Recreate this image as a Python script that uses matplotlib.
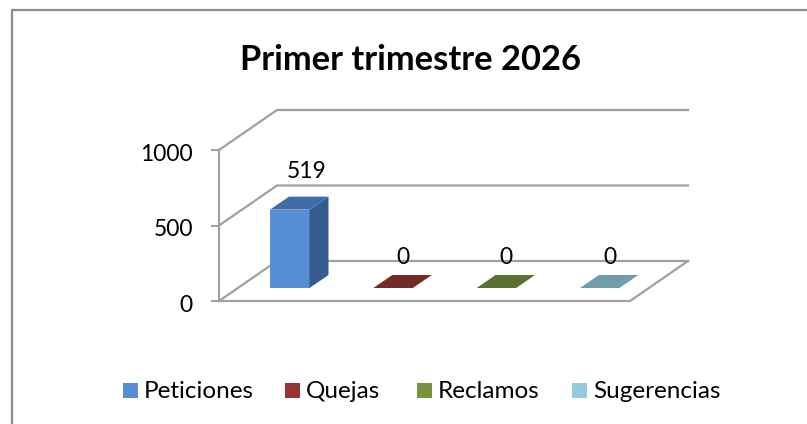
import matplotlib
matplotlib.use('Agg')
import matplotlib.pyplot as plt
from matplotlib.patches import Polygon, Rectangle

categories = ['Peticiones', 'Quejas', 'Reclamos', 'Sugerencias']
values = [519, 0, 0, 0]
y_ticks = [0, 500, 1000]

front = ['#558ED5', '#943634', '#77933C', '#93CDDD']
top = ['#3F6CA5', '#722B29', '#5B7030', '#719CA9']
side = '#345C8E'

plt.rcParams['font.family'] = ['Lato', 'DejaVu Sans']

fig = plt.figure(figsize=(8.07, 4.24), dpi=100)
ax = fig.add_axes([0, 0, 1, 1])
ax.set_xlim(0, 807)
ax.set_ylim(424, 0)
ax.axis('off')

# 3d box of the chart
x0, y0 = 219, 301
px_per_unit = 151 / 1000
dx, dy = 58, -40
floor_w = 411
grid = '#A0A0A0'


def wall(v):
    return y0 - v * px_per_unit


# outer frame, only top and left show in the crop
ax.plot([11.5, 11.5, 807], [424, 9.5, 9.5], color='#8C8C8C', lw=1.6)

ax.text(410, 60, 'Primer trimestre 2026', ha='center', va='center', fontsize=24.8, fontweight='bold')

for v in y_ticks:
    y = wall(v)
    ax.plot([x0 - 8, x0], [y, y], color=grid, lw=1.5, solid_capstyle='butt')
    ax.plot([x0, x0 + dx, x0 + floor_w + dx], [y, y + dy, y + dy], color=grid, lw=1.6)
    ax.text(193, y + 4.5, str(v), ha='right', va='center', fontsize=16.5)

ax.plot([x0, x0], [wall(0), wall(y_ticks[-1])], color=grid, lw=1.5)
ax.plot([x0, x0 + floor_w, x0 + floor_w + dx], [y0, y0, y0 + dy], color=grid, lw=1.6)

# bars
bar_w = 39.5
step = 103.3
bx, by = 19, -13
base = 288
for i, v in enumerate(values):
    l = 270 + i * step
    r = l + bar_w
    t = base - v * px_per_unit
    if v > 0:
        ax.add_patch(Rectangle((l, t), bar_w, v * px_per_unit, fc=front[i], ec='none', zorder=3))
        ax.add_patch(Polygon([(r, t), (r + bx, t + by), (r + bx, base + by), (r, base)], fc=side, ec='none', zorder=3))
    ax.add_patch(Polygon([(l, t), (l + bx, t + by), (r + bx, t + by), (r, t)], fc=top[i], ec='none', zorder=3))
    if v > 0:
        ax.text(r + 17 - bar_w / 2, t - 38.5, str(v), ha='center', va='center', fontsize=16.5, zorder=4)
    else:
        ax.text(r + 10 - bar_w / 2, t - 31, str(v), ha='center', va='center', fontsize=16.5, zorder=4)

# legend
leg_x = [123, 285, 417, 572]
for x, name, c in zip(leg_x, categories, front):
    ax.add_patch(Rectangle((x, 383), 15, 15, fc=c, ec='none'))
    ax.text(x + 21, 392, name, ha='left', va='center', fontsize=17.5)

fig.savefig('out.png', dpi=100)
